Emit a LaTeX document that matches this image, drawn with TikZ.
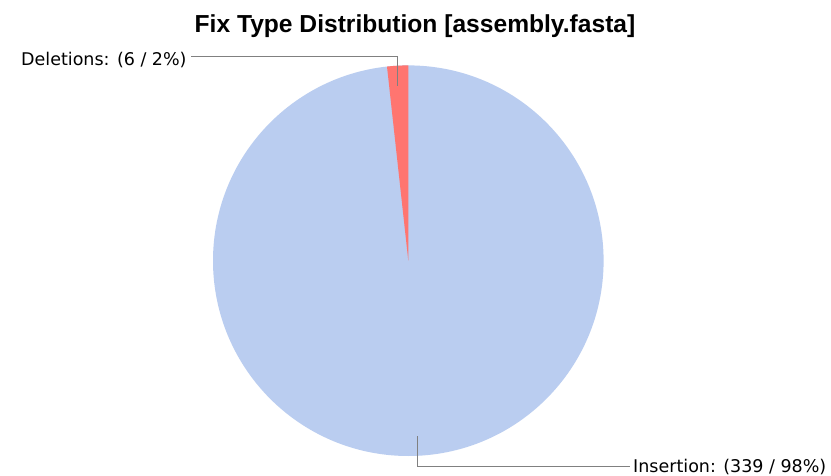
\documentclass[tikz,border=0pt]{standalone}
\usepackage{fontspec}
\setmainfont{DejaVu Sans}
\newfontfamily\titlefont{Liberation Sans}
\definecolor{insblue}{RGB}{186,205,240}
\definecolor{delred}{RGB}{255,117,112}
\definecolor{leadgray}{RGB}{128,128,128}
\begin{document}
\begin{tikzpicture}[x=1pt,y=-1pt,
  titlestyle/.style={inner sep=0pt, font=\titlefont\bfseries\fontsize{24.6}{28}\selectfont},
  labelstyle/.style={inner sep=0pt, font=\fontsize{17.5}{20}\selectfont},
  leader/.style={draw=leadgray, line width=0.9pt}]
\useasboundingbox[fill=white] (0,0) rectangle (831,476);
\node[titlestyle, anchor=base] (title) at (415,32.3) {Fix Type Distribution [assembly.fasta]};
\node[circle, fill=insblue, inner sep=0pt, minimum size=390.6pt] (pie) at (408.3,260.7) {};
\begin{scope}[shift={(408.3,260.7)}, y=1pt]
  \fill[delred] (0,0) -- (90:195.3) arc[start angle=90, end angle=96.26, radius=195.3] -- cycle;
\end{scope}
\node[labelstyle, anchor=base west] (dlabel) at (21,65.5) {Deletions: (6 / 2\%)};
\node[labelstyle, anchor=base west] (ilabel) at (633,472) {Insertion: (339 / 98\%)};
\coordinate (dtip) at (397.7,86);
\coordinate (itip) at (417.7,436);
\draw[leader] (dtip) |- ([xshift=4pt, yshift=8.8pt]dlabel.base east);
\draw[leader] (itip) |- ([xshift=-3pt, yshift=6pt]ilabel.base west);
\end{tikzpicture}
\end{document}
